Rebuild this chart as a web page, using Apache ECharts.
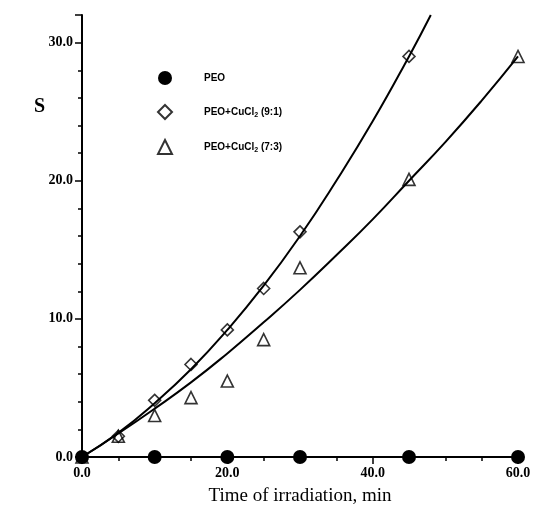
<!DOCTYPE html>
<html>
<head>
    <meta charset="utf-8">
    <title>S vs time of irradiation</title>
    <script src="https://cdn.jsdelivr.net/npm/echarts@6/dist/echarts.min.js"></script>
    <style type="text/css">
        * {
            margin: 0;
            padding: 0;
        }

        body {
            background: #fff;
        }
    </style>
</head>
<body>
<div id="main" style="width:534px;height:513px;"></div>
<script type="text/javascript">
    // measured points
    var timePEO = [0, 10, 20, 30, 45, 60];
    var sPEO = [0, 0, 0, 0, 0, 0];
    var time91 = [0, 5, 10, 15, 20, 25, 30, 45];
    var s91 = [0, 1.5, 4.1, 6.7, 9.2, 12.2, 16.3, 29.0];
    var time73 = [0, 5, 10, 15, 20, 25, 30, 45, 60];
    var s73 = [0, 1.5, 3.0, 4.3, 5.5, 8.5, 13.7, 20.1, 29.0];

    // fitted curves as drawn in the figure
    var curveX91 = [0, 5, 10, 15, 20, 25, 30, 35, 40, 45, 48];
    var curveY91 = [0, 1.75, 3.9, 6.35, 9.2, 12.4, 16.0, 20.0, 24.3, 29.0, 32.0];
    var curveX73 = [0, 5, 10, 15, 20, 25, 30, 35, 40, 45, 50, 55, 60];
    var curveY73 = [0, 1.7, 3.5, 5.4, 7.5, 9.75, 12.1, 14.6, 17.2, 20.0, 22.8, 25.8, 29.0];

    var names = ['PEO', 'PEO+CuCl2 (9:1)', 'PEO+CuCl2 (7:3)'];

    function pairs(xs, ys) {
        var out = [];
        for (var i = 0; i < xs.length; i++) {
            out.push([xs[i], ys[i]]);
        }
        return out;
    }

    var serif = 'Liberation Serif';
    var tickLabel = {
        fontFamily: serif,
        fontWeight: 'bold',
        fontSize: 14,
        color: '#000'
    };

    var myChart = echarts.init(document.getElementById('main'));
    var option = {
        animation: false,
        backgroundColor: '#fff',
        title: {
            text: 'S',
            left: 29,
            top: 92,
            textStyle: {
                fontFamily: serif,
                fontWeight: 'bold',
                fontSize: 20,
                color: '#000'
            }
        },
        legend: {
            orient: 'vertical',
            left: 152,
            top: 66,
            itemWidth: 14,
            itemHeight: 14,
            itemGap: 19,
            data: [
                {name: names[0], icon: 'circle'},
                {name: names[1], icon: 'diamond'},
                {name: names[2], icon: 'triangle'}
            ],
            formatter: function (name) {
                return name.replace('Cl2', 'Cl{sub|2}');
            },
            textStyle: {
                fontFamily: 'Liberation Sans',
                fontWeight: 'bold',
                fontSize: 10,
                color: '#000',
                padding: [0, 0, 0, 27],
                rich: {
                    sub: {
                        fontFamily: 'Liberation Sans',
                        fontWeight: 'bold',
                        fontSize: 7,
                        color: '#000',
                        padding: [6, 0, 0, 0]
                    }
                }
            }
        },
        grid: {
            left: 82,
            right: 16,
            top: 15,
            bottom: 56
        },
        xAxis: [{
            type: 'value',
            min: 0,
            max: 60,
            interval: 5,
            position: 'bottom',
            axisLine: {lineStyle: {color: '#000', width: 2}},
            axisTick: {length: 4, lineStyle: {color: '#000', width: 1.5}},
            axisLabel: {show: false},
            splitLine: {show: false}
        }, {
            type: 'value',
            min: 0,
            max: 60,
            interval: 20,
            position: 'bottom',
            axisLine: {show: false},
            axisTick: {length: 7, lineStyle: {color: '#000', width: 1.5}},
            axisLabel: {
                margin: 9,
                formatter: function (v) { return v.toFixed(1); },
                fontFamily: tickLabel.fontFamily,
                fontWeight: tickLabel.fontWeight,
                fontSize: tickLabel.fontSize,
                color: tickLabel.color
            },
            splitLine: {show: false},
            name: 'Time of irradiation, min',
            nameLocation: 'middle',
            nameGap: 30,
            nameTextStyle: {
                fontFamily: serif,
                fontSize: 19,
                color: '#000'
            }
        }],
        yAxis: [{
            type: 'value',
            min: 0,
            max: 32,
            interval: 2,
            position: 'left',
            axisLine: {show: true, lineStyle: {color: '#000', width: 2}},
            axisTick: {show: true, length: 4, lineStyle: {color: '#000', width: 1.5}},
            axisLabel: {show: false},
            splitLine: {show: false}
        }, {
            type: 'value',
            min: 0,
            max: 32,
            interval: 10,
            position: 'left',
            axisLine: {show: false},
            axisTick: {show: true, length: 7, lineStyle: {color: '#000', width: 1.5}},
            axisLabel: {
                margin: 9,
                formatter: function (v) { return v % 10 === 0 ? v.toFixed(1) : ''; },
                fontFamily: tickLabel.fontFamily,
                fontWeight: tickLabel.fontWeight,
                fontSize: tickLabel.fontSize,
                color: tickLabel.color
            },
            splitLine: {show: false}
        }],
        series: [{
            name: 'fit 9:1',
            type: 'line',
            smooth: true,
            showSymbol: false,
            silent: true,
            clip: true,
            z: 3,
            lineStyle: {color: '#000', width: 2},
            data: pairs(curveX91, curveY91)
        }, {
            name: 'fit 7:3',
            type: 'line',
            smooth: true,
            showSymbol: false,
            silent: true,
            z: 3,
            lineStyle: {color: '#000', width: 2},
            data: pairs(curveX73, curveY73)
        }, {
            name: names[0],
            type: 'line',
            symbol: 'circle',
            symbolSize: 14,
            z: 4,
            itemStyle: {color: '#000'},
            lineStyle: {color: '#000', width: 2},
            data: pairs(timePEO, sPEO)
        }, {
            name: names[1],
            type: 'scatter',
            symbol: 'diamond',
            symbolSize: 12,
            z: 4,
            itemStyle: {color: 'rgba(255,255,255,0)', borderColor: '#000', borderWidth: 1.6},
            data: pairs(time91, s91)
        }, {
            name: names[2],
            type: 'scatter',
            symbol: 'triangle',
            symbolSize: 12,
            z: 4,
            itemStyle: {color: 'rgba(255,255,255,0)', borderColor: '#000', borderWidth: 1.6},
            data: pairs(time73, s73)
        }]
    };
    myChart.setOption(option);
</script>
</body>
</html>
